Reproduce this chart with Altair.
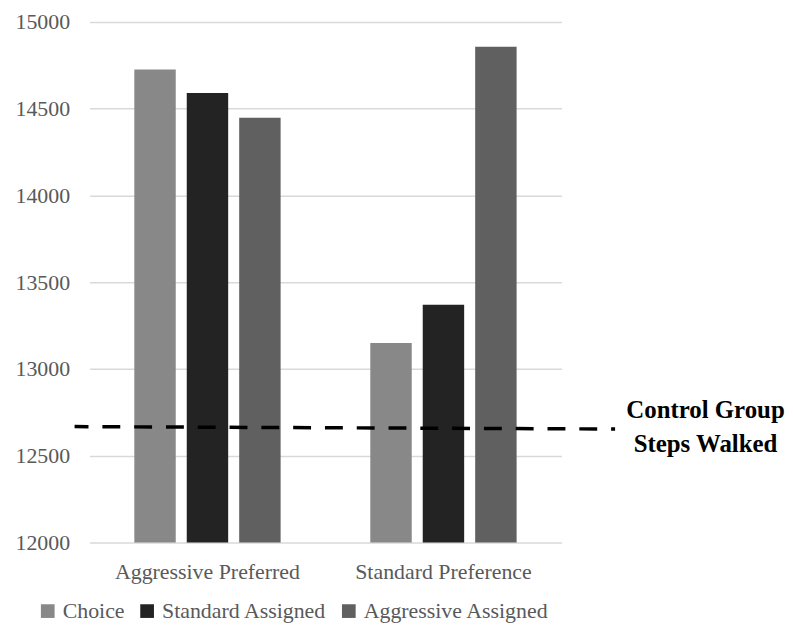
import altair as alt
import pandas as pd

groups = ["Aggressive Preferred", "Standard Preference"]
series = ["Choice", "Standard Assigned", "Aggressive Assigned"]
choice = [14725, 13150]
standard_assigned = [14590, 13370]
aggressive_assigned = [14447, 14857]
series_colors = ["#888888", "#232323", "#606060"]
y_ticks = [12000, 12500, 13000, 13500, 14000, 14500, 15000]
y_base = 12000
control_start = [12668]
control_end = [12654]
control_label = ["Control Group\nSteps Walked"]

rows = []
for i, g in enumerate(groups):
    for s, vals in zip(series, [choice, standard_assigned, aggressive_assigned]):
        rows.append({"group": g, "series": s, "steps": vals[i]})
bars_df = pd.DataFrame(rows)

FONT = "Liberation Serif"
yscale = alt.Scale(domain=[12000, 15000], zero=False, nice=False)

bars = alt.Chart(bars_df).mark_bar().encode(
    x=alt.X("group:N", sort=groups, title=None,
            scale=alt.Scale(paddingInner=0.38, paddingOuter=0.19),
            axis=alt.Axis(labelAngle=0, ticks=False, domain=False, labelPadding=19,
                          labelLimit=0)),
    xOffset=alt.XOffset("series:N", sort=series,
                        scale=alt.Scale(paddingInner=0.21, paddingOuter=0)),
    y=alt.Y("steps:Q", scale=yscale, title=None,
            axis=alt.Axis(values=y_ticks, format="d", ticks=False, domain=False,
                          labelPadding=20, gridColor="#d9d9d9", gridWidth=1.5)),
    y2=alt.datum(y_base),
    color=alt.Color("series:N", sort=series, title=None,
                    scale=alt.Scale(domain=series, range=series_colors),
                    legend=alt.Legend(orient="none", direction="horizontal",
                                      legendX=-53, legendY=582,
                                      symbolType="square", symbolSize=190,
                                      symbolStrokeWidth=0, labelOffset=4,
                                      columnPadding=11, labelLimit=0)),
)

ctrl_df = pd.DataFrame({"y": control_start, "y2": control_end, "label": control_label})

rule = alt.Chart(ctrl_df).mark_rule(
    color="black", strokeWidth=3.5, strokeDash=[18, 14], strokeDashOffset=4
).encode(
    x=alt.value(-15), x2=alt.value(529),
    y=alt.Y("y:Q", scale=yscale), y2="y2:Q",
)

text = alt.Chart(ctrl_df).mark_text(
    font=FONT, fontSize=25, fontWeight="bold", color="black",
    lineBreak="\n", lineHeight=35, align="center", baseline="middle", dy=-17
).encode(
    x=alt.value(620),
    y=alt.Y("y:Q", scale=yscale),
    text="label:N",
)

chart = alt.layer(bars, rule, text).properties(
    width=475, height=524,
    autosize=alt.AutoSizeParams(type="none"),
    padding={"left": 82, "top": 12, "right": 225, "bottom": 80},
).configure_view(stroke=None).configure_axis(
    labelFont=FONT, labelFontSize=22, labelColor="#595959"
).configure_legend(
    labelFont=FONT, labelFontSize=22, labelColor="#595959"
)

chart.save("out.html", embed_options={"renderer": "svg", "actions": False})
